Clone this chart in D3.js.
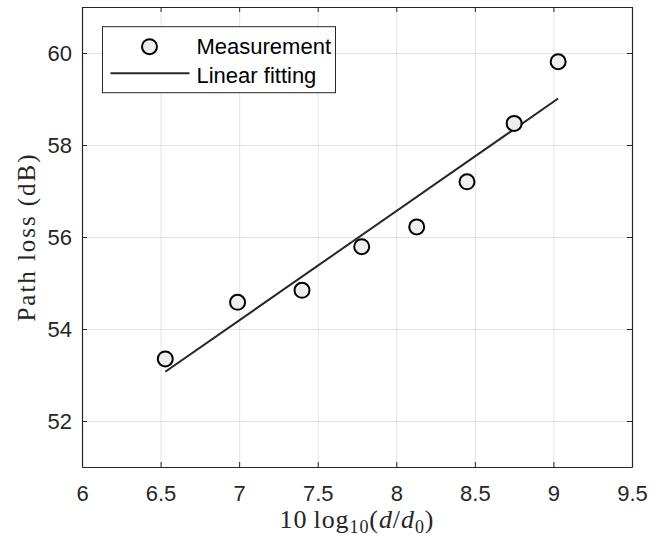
<!DOCTYPE html>
<html>
<head>
<meta charset="utf-8">
<script src="https://cdn.jsdelivr.net/npm/d3@7"></script>
<style>
  body { margin: 0; background: #fff; }
  svg { display: block; }
  .tick text { font-family: "Liberation Sans", Arial, sans-serif; font-size: 22px; fill: #262626; }
</style>
</head>
<body>
<div class="graph"></div>
<script>
// Measured points
var distLog = [6.53, 6.99, 7.40, 7.78, 8.13, 8.45, 8.75, 9.03];
var pathLoss = [53.35, 54.58, 54.84, 55.79, 56.22, 57.20, 58.47, 59.81];

// Fitted line end points
var fitX = [6.53, 9.03];
var fitY = [53.07, 59.01];

// Tick labels
var xTicks = [6, 6.5, 7, 7.5, 8, 8.5, 9, 9.5];
var yTicks = [52, 54, 56, 58, 60];

var legendLabels = ["Measurement", "Linear fitting"];

// Configuration Variables
var W = 664, H = 538;
var margin = {top: 7, right: 32, bottom: 71, left: 82},
    width = W - margin.left - margin.right,
    height = H - margin.top - margin.bottom;
var axisColor = "#262626";

// Scales
var x = d3.scaleLinear().domain([6, 9.5]).range([0, width]);
var y = d3.scaleLinear().domain([51, 61]).range([height, 0]);

var svg = d3.select(".graph").append("svg")
    .attr("width", W)
    .attr("height", H)
  .append("g")
    .attr("transform", "translate(" + margin.left + "," + margin.top + ")");

// Grid
svg.append("g")
    .attr("transform", "translate(0," + height + ")")
    .call(d3.axisBottom(x).tickValues(xTicks).tickSize(-height).tickFormat(""))
    .call(function(g) {
      g.select(".domain").remove();
      g.selectAll("line").attr("stroke", "#e3e3e3").attr("stroke-width", 1);
    });
svg.append("g")
    .call(d3.axisLeft(y).tickValues(yTicks).tickSize(-width).tickFormat(""))
    .call(function(g) {
      g.select(".domain").remove();
      g.selectAll("line").attr("stroke", "#e3e3e3").attr("stroke-width", 1);
    });

// Axes (box with inward ticks)
function styleAxis(g) {
  g.select(".domain").attr("stroke", axisColor).attr("stroke-width", 1.2);
  g.selectAll(".tick line").attr("stroke", axisColor).attr("stroke-width", 1);
}
svg.append("g")
    .attr("transform", "translate(0," + height + ")")
    .call(d3.axisBottom(x).tickValues(xTicks).tickSize(-5).tickSizeOuter(0).tickPadding(18)
      .tickFormat(d3.format("")))
    .call(styleAxis);
svg.append("g")
    .call(d3.axisTop(x).tickValues(xTicks).tickSize(-5).tickSizeOuter(0).tickFormat(""))
    .call(styleAxis);
svg.append("g")
    .call(d3.axisLeft(y).tickValues(yTicks).tickSize(-5).tickSizeOuter(0).tickPadding(10))
    .call(styleAxis);
svg.append("g")
    .attr("transform", "translate(" + width + ",0)")
    .call(d3.axisRight(y).tickValues(yTicks).tickSize(-5).tickSizeOuter(0).tickFormat(""))
    .call(styleAxis);
svg.selectAll(".tick text").attr("font-family", null).attr("font-size", null);

// Fit line
var fit = fitX.map(function(d, i) { return [d, fitY[i]]; });
svg.append("path")
    .datum(fit)
    .attr("fill", "none")
    .attr("stroke", axisColor)
    .attr("stroke-width", 2)
    .attr("d", d3.line().x(function(d) { return x(d[0]); }).y(function(d) { return y(d[1]); }));

// Markers
svg.selectAll(".pt")
    .data(distLog)
    .enter().append("circle")
    .attr("class", "pt")
    .attr("cx", function(d) { return x(d); })
    .attr("cy", function(d, i) { return y(pathLoss[i]); })
    .attr("r", 7.5)
    .attr("fill", "#eeeeee")
    .attr("stroke", "#000")
    .attr("stroke-width", 2);

// Legend
var lg = svg.append("g").attr("transform", "translate(" + (102.5 - margin.left) + "," + (26.7 - margin.top) + ")");
lg.append("rect")
    .attr("width", 233).attr("height", 66)
    .attr("fill", "#fff").attr("stroke", axisColor).attr("stroke-width", 1);
lg.append("circle")
    .attr("cx", 47).attr("cy", 20).attr("r", 7.5)
    .attr("fill", "#eeeeee").attr("stroke", "#000").attr("stroke-width", 2);
lg.append("line")
    .attr("x1", 8).attr("x2", 87).attr("y1", 46.6).attr("y2", 46.6)
    .attr("stroke", axisColor).attr("stroke-width", 2);
lg.selectAll(".lt")
    .data(legendLabels)
    .enter().append("text")
    .attr("x", 94)
    .attr("y", function(d, i) { return 27.5 + i * 28.5; })
    .attr("font-family", "Liberation Sans, Arial, sans-serif")
    .attr("font-size", 22)
    .attr("fill", "#000")
    .text(function(d) { return d; });

// Axis labels (LaTeX-like serif)
var serif = "Liberation Serif, Times New Roman, serif";
svg.append("text")
    .attr("transform", "translate(" + (35 - margin.left) + "," + (238 - margin.top) + ") rotate(-90)")
    .attr("text-anchor", "middle")
    .attr("font-family", serif)
    .attr("font-size", 25)
    .attr("fill", "#262626")
    .attr("textLength", 167)
    .attr("lengthAdjust", "spacing")
    .text("Path loss (dB)");

var xl = svg.append("text")
    .attr("x", 279.5 - margin.left)
    .attr("y", 527.7 - margin.top)
    .attr("font-family", serif)
    .attr("font-size", 26)
    .attr("fill", "#262626")
    .attr("textLength", 154)
    .attr("lengthAdjust", "spacing");
xl.append("tspan").text("10\u2009log");
xl.append("tspan").attr("font-size", 18).attr("dy", 5).text("10");
xl.append("tspan").attr("dy", -5).text("(");
xl.append("tspan").attr("font-style", "italic").text("d");
xl.append("tspan").text("/");
xl.append("tspan").attr("font-style", "italic").text("d");
xl.append("tspan").attr("font-size", 18).attr("dy", 5).text("0");
xl.append("tspan").attr("dy", -5).text(")");
</script>
</body>
</html>
